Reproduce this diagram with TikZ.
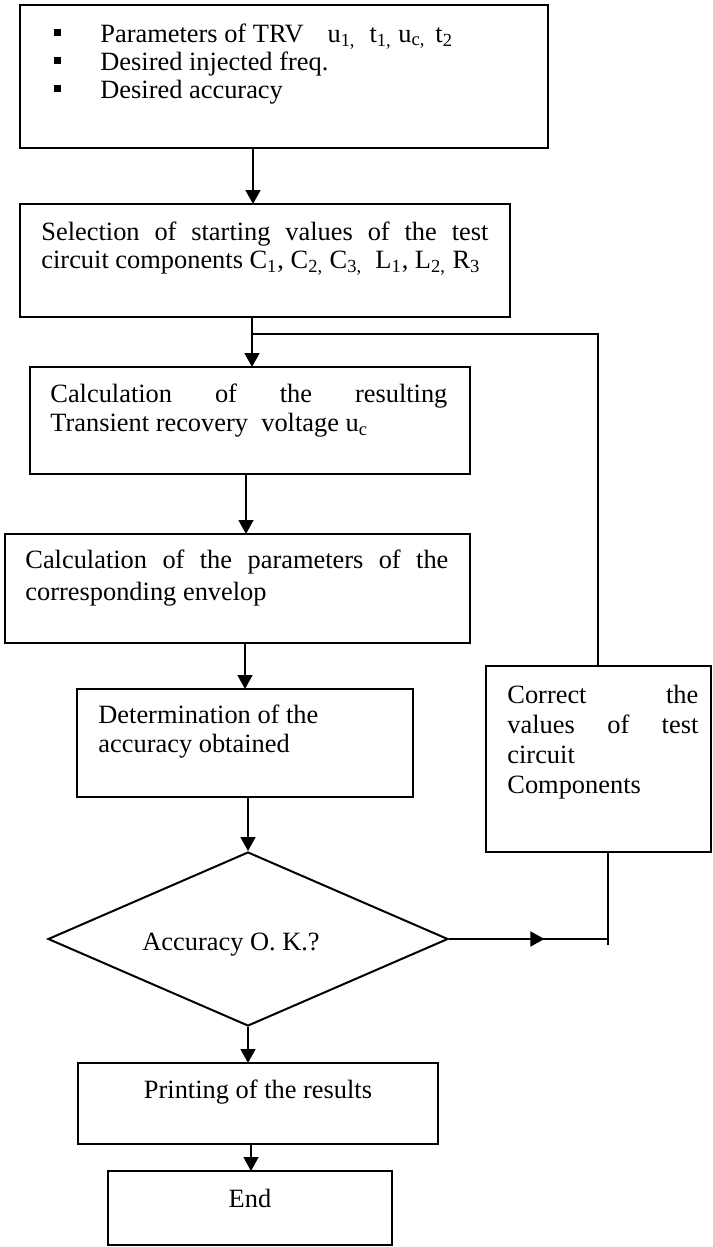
\documentclass[tikz,border=0pt]{standalone}
\usepackage{fontspec}
\setmainfont{Liberation Serif}
\usetikzlibrary{arrows.meta,shapes.geometric,decorations.markings,calc}
\newcommand\fsz[1]{\fontsize{13.2}{#1}\selectfont}
\newcommand\bul{\makebox[20pt][c]{\raisebox{3.2pt}{\rule{3.5pt}{3.5pt}}}\hspace{11.5pt}}
\begin{document}
\begin{tikzpicture}[x=0.5pt,y=-0.5pt,
 box/.style={draw, line width=1pt, rectangle, inner sep=0, outer sep=0, anchor=north west},
 txt/.style={inner sep=0, anchor=north west},
 conn/.style={line width=0.8pt},
 arr/.style={conn, -{Triangle[width=7.5pt,length=7pt]}},
 midarr/.style={conn, postaction={decorate}, decoration={markings, mark=at position 0.6 with {\arrow{Triangle[width=7.5pt,length=7pt]}}}},
]
\useasboundingbox (0,0) rectangle (712,1247);
% boxes
\node[box, minimum width=264pt, minimum height=71.5pt] (n1) at (20,5) {};
\node[txt, align=left, font=\fsz{14}] (t1) at (37,22.4)
  {\strut\bul Parameters of TRV\hspace{12pt}u\textsubscript{1,}\hspace{7pt}t\textsubscript{1,} u\textsubscript{c,}\hspace{5pt}t\textsubscript{2}\\
   \bul Desired injected freq.\\
   \bul Desired accuracy};
\node[box, minimum width=245pt, minimum height=56.5pt] (n2) at (20,204) {};
\node[txt, text width=223.5pt, align=justify, font=\fsz{14}] (t2) at (41,220.4)
  {\strut Selection of starting values of the test\linebreak circuit components C\textsubscript{1}, C\textsubscript{2,} C\textsubscript{3,}\ \ L\textsubscript{1}, L\textsubscript{2,} R\textsubscript{3}};
\node[box, minimum width=220pt, minimum height=53.5pt] (n3) at (30,367) {};
\node[txt, text width=198.5pt, align=justify, font=\fsz{14.5}] (t3) at (50,381.7)
  {\strut Calculation of the resulting\linebreak Transient recovery\ \ voltage u\textsubscript{c}};
\node[box, minimum width=232.5pt, minimum height=54.5pt] (n4) at (5,534) {};
\node[txt, text width=211.5pt, align=justify, font=\fsz{16}] (t4) at (25,545.6)
  {\strut Calculation of the parameters of the\linebreak corresponding envelop};
\node[box, minimum width=168pt, minimum height=54pt] (n5) at (77,689) {};
\node[txt, align=left, font=\fsz{14.5}] (t5) at (98,702.7)
  {\strut Determination of the\\ accuracy obtained};
\node[box, minimum width=112.5pt, minimum height=93pt] (n6) at (486,666) {};
\node[txt, text width=95.5pt, align=justify, font=\fsz{15}] (t6) at (507,682)
  {\strut Correct the\linebreak values of test\linebreak circuit\newline Components};
\node[diamond, draw, line width=1pt, minimum width=200pt, minimum height=87pt, inner sep=0, shape aspect=2.3] (d) at (248,939) {};
\node[inner sep=0, anchor=base, font=\fsz{15}] (td) at (231,950) {Accuracy O. K.?};
\node[box, minimum width=180pt, minimum height=40.5pt] (n7) at (78,1063) {};
\node[inner sep=0, anchor=base, font=\fsz{15}] (t7) at (258,1098) {Printing of the results};
\node[box, minimum width=142pt, minimum height=37pt] (n8) at (108,1171) {};
\node[inner sep=0, anchor=base, font=\fsz{15}] (t8) at (250,1207) {End};
% connectors
\coordinate (c12) at (253,0);
\draw[arr] (n1.south -| c12) -- (n2.north -| c12);
\coordinate (c23) at (252,0);
\draw[arr] (n2.south -| c23) -- (n3.north -| c23);
\coordinate (j) at (252,334);
\coordinate (fb) at (598,0);
\draw[conn] (j) -| (n6.north -| fb);
\coordinate (c34) at (246,0);
\draw[arr] (n3.south -| c34) -- (n4.north -| c34);
\coordinate (c45) at (245,0);
\draw[arr] (n4.south -| c45) -- (n5.north -| c45);
\draw[arr] (n5.south -| d.north) -- (d.north);
\coordinate (rx) at (608,0);
\coordinate (re) at (608,945);
\draw[conn] (n6.south -| rx) -- (re);
\draw[midarr] (d.east) -- (d.east -| rx);
\draw[arr] (d.south) -- (n7.north -| d.south);
\coordinate (c78) at (251,0);
\draw[arr] (n7.south -| c78) -- (n8.north -| c78);
\end{tikzpicture}
\end{document}
